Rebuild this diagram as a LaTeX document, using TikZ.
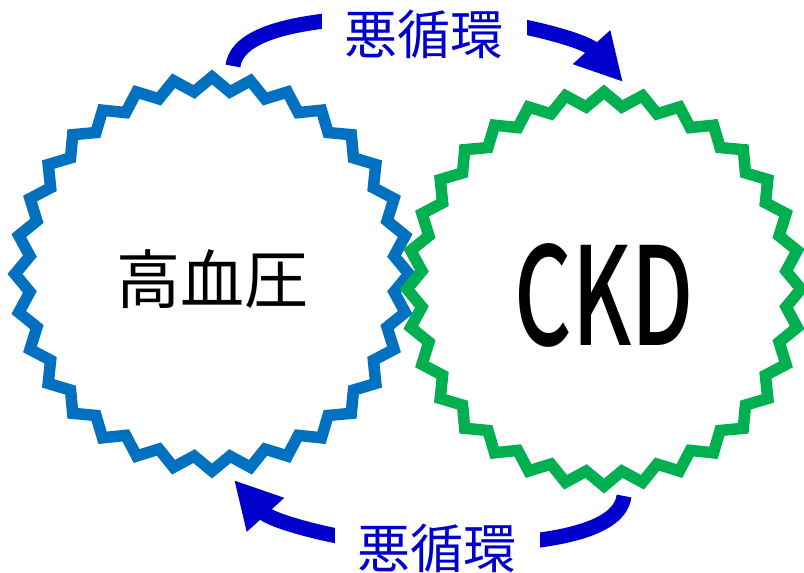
\documentclass[tikz,border=0pt]{standalone}
\usepackage{fontspec}
\usepackage{graphicx}
\newfontfamily\jp{Noto Sans CJK JP}
\newfontfamily\jpmed{Noto Sans CJK JP}[UprightFont=* Medium]
\usetikzlibrary{arrows.meta}
\definecolor{starblue}{HTML}{0070C0}
\definecolor{stargreen}{HTML}{00B050}
\definecolor{loopblue}{HTML}{0000CC}
\begin{document}
\begin{tikzpicture}[x=1pt,y=-1pt,
  zig/.style={line width=11.5pt, line join=miter},
  loopline/.style={draw=loopblue, line width=15pt, -{Triangle[length=47pt,width=47pt]}},
  looplabel/.style={fill=white, text=loopblue, font=\jp\fontsize{53pt}{60pt}\selectfont, inner xsep=23pt, inner ysep=6pt},
  mainlabel/.style={text=black, inner sep=0pt}]
\fill[white] (0,0) rectangle (804,573);
\useasboundingbox (0,0) rectangle (804,573);
% stars
\coordinate (c1) at (212,274);
\coordinate (c2) at (604,289);
\draw[zig, starblue] plot[domain=0:63, samples=64, variable=\k]
  ({212+(190+7*cos(\k*180))*cos(90+\k*5.625)}, {274+(190+7*cos(\k*180))*sin(90+\k*5.625)}) -- cycle;
\draw[zig, stargreen] plot[domain=0:63, samples=64, variable=\k]
  ({604+(190+7*cos(\k*180))*cos(90+\k*5.625)}, {289+(190+7*cos(\k*180))*sin(90+\k*5.625)}) -- cycle;
% labels
\node[mainlabel, font=\jp\fontsize{64pt}{70pt}\selectfont] (hbp) at (212.5,279) {高血圧};
\node[mainlabel, font=\jpmed\fontsize{136pt}{140pt}\selectfont] (ckd) at (604,295) {\scalebox{0.655}[1]{CKD}};
% loop arrows
\coordinate (t0) at (233,66);
\coordinate (tm) at (428,16);
\coordinate (t1) at (623,82);
\coordinate (b0) at (624,496);
\coordinate (bm) at (429,546);
\coordinate (b1) at (234,480);
\draw[loopline] (t0) .. controls (238,25) and (330,16) .. (tm) .. controls (500,16) and (585,40) .. (t1);
\draw[loopline] (b0) .. controls (619,537) and (527,546) .. (bm) .. controls (357,546) and (272,522) .. (b1);
\node[looplabel] (top) at (424,34) {悪循環};
\node[looplabel] (bot) at (437,548) {悪循環};
\end{tikzpicture}
\end{document}
